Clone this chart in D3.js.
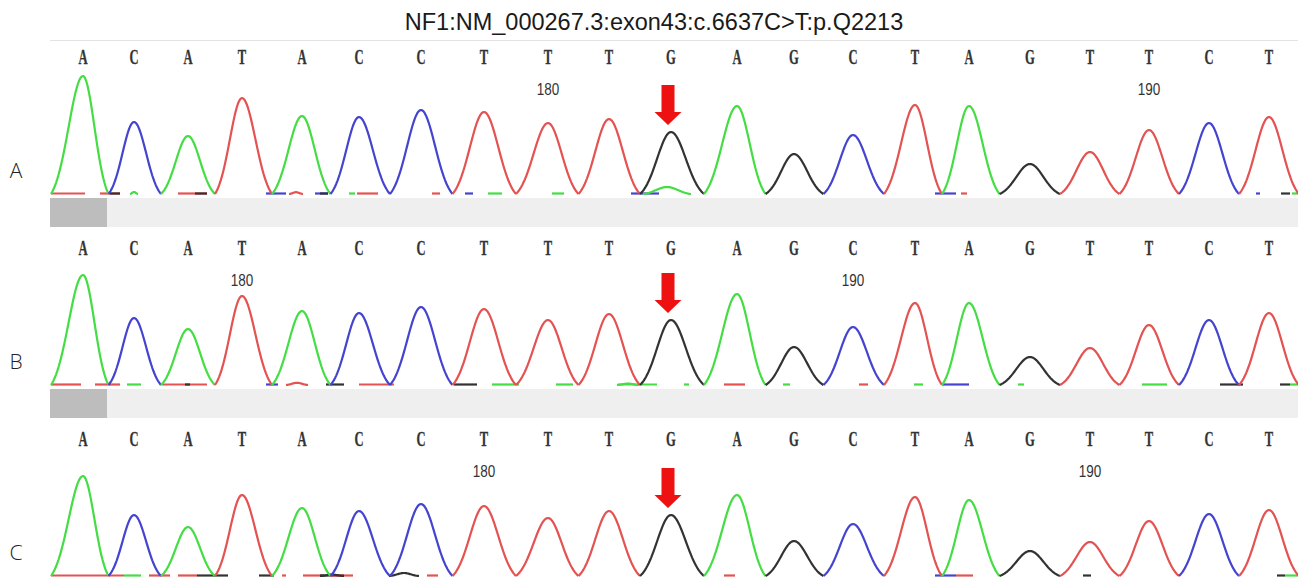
<!DOCTYPE html>
<html>
<head>
<meta charset="utf-8">
<script src="https://cdn.jsdelivr.net/npm/d3@7"></script>
<style>
  html, body { margin: 0; padding: 0; background: #fff; }
  svg { display: block; }
</style>
</head>
<body>
<svg id="chart" width="1298" height="582"></svg>
<script>
// ---------------- DATA ----------------
const title = "NF1:NM_000267.3:exon43:c.6637C>T:p.Q2213";
const panelLabels = ["A", "B", "C"];
const bases = ["A","C","A","T","A","C","C","T","T","T","G","A","G","C","T","A","G","T","T","C","T"];
// scan position of each called base peak
const peakScan = [33, 84, 138, 192, 252, 309, 371, 434, 498, 559, 621, 687, 744, 803, 865, 919, 980, 1040, 1099, 1159, 1219];
// peak signal heights per sample
const heightsA = [1180, 720, 580, 960, 780, 770, 840, 820, 710, 750, 620, 880, 400, 590, 890, 880, 300, 420, 640, 710, 770];
const heightsB = [1100, 670, 560, 890, 740, 720, 780, 760, 650, 710, 650, 910, 380, 580, 820, 820, 280, 370, 600, 650, 720];
const heightsC = [1000, 610, 490, 810, 680, 650, 720, 700, 580, 650, 610, 810, 350, 520, 790, 760, 250, 340, 550, 620, 660];
// position-number labels: [label, base index] per sample
const ticksA = [["180", 8], ["190", 18]];
const ticksB = [["180", 3], ["190", 13]];
const ticksC = [["180", 7], ["190", 17]];
const mutationIndex = 10;
// minor secondary peaks: [centre scan, half width, height, base]
const minorA = [[617, 24, 70, "A"], [84, 4, 20, "A"], [246, 7, 18, "T"]];
const minorB = [[247, 11, 22, "T"], [578, 11, 14, "A"]];
const minorC = [[354, 15, 30, "G"], [282, 12, 14, "G"]];
// baseline noise segments: [scan start, scan end, base]
const noiseA = [[1,35,"T"],[50,70,"T"],[60,70,"G"],[128,157,"T"],[145,157,"G"],[216,236,"C"],[265,278,"C"],[270,278,"G"],[299,305,"A"],[307,328,"T"],[382,390,"T"],[415,423,"C"],[438,452,"A"],[502,514,"A"],[581,609,"C"],[885,906,"C"],[911,917,"T"],[1206,1210,"C"],[1231,1240,"G"],[1242,1248,"A"]];
const noiseB = [[1,31,"T"],[45,70,"T"],[77,91,"A"],[112,157,"T"],[135,140,"G"],[216,228,"C"],[276,294,"G"],[309,344,"T"],[404,427,"G"],[442,469,"A"],[506,523,"A"],[568,607,"A"],[634,639,"A"],[674,695,"T"],[733,740,"A"],[809,818,"T"],[864,873,"A"],[892,919,"C"],[968,974,"A"],[1092,1117,"A"],[1170,1193,"G"],[1230,1240,"G"],[1240,1248,"A"]];
const noiseC = [[1,74,"T"],[74,91,"A"],[99,120,"T"],[128,147,"T"],[147,178,"G"],[209,224,"G"],[232,236,"T"],[253,274,"T"],[270,294,"G"],[280,303,"T"],[377,388,"T"],[674,685,"T"],[885,906,"C"],[906,923,"T"],[1033,1041,"G"],[1227,1235,"G"],[1235,1248,"A"]];

const samples = [
  { label: panelLabels[0], heights: heightsA, ticks: ticksA, minor: minorA, noise: noiseA, band: true },
  { label: panelLabels[1], heights: heightsB, ticks: ticksB, minor: minorB, noise: noiseB, band: true },
  { label: panelLabels[2], heights: heightsC, ticks: ticksC, minor: minorC, noise: noiseC, band: false }
];

// ---------------- STYLE / LAYOUT ----------------
const baseColor = { A: "#44dd44", C: "#4444d0", G: "#333333", T: "#e45252" };
const panelBaseline = [194, 385, 576];
const W = 1298;
const svg = d3.select("#chart");

const x = d3.scaleLinear().domain([0, 1248]).range([50, W]);
const yAmp = d3.scaleLinear().domain([0, 1200]).range([0, 120]);

function shape(t) {
  const k = 2.5;
  return Math.max(0, (Math.exp(-k * t * t) - Math.exp(-k)) / (1 - Math.exp(-k)));
}
const line = d3.line().x(d => d[0]).y(d => d[1]);

// title
svg.append("text")
  .attr("x", 654).attr("y", 30)
  .attr("text-anchor", "middle")
  .style("font-family", "'Liberation Sans', Arial, sans-serif")
  .style("font-size", "23.5px")
  .attr("fill", "#1a1a1a")
  .text(title);

svg.append("line")
  .attr("x1", x(0)).attr("x2", W)
  .attr("y1", 40.5).attr("y2", 40.5)
  .attr("stroke", "#e2e2e2").attr("stroke-width", 1);

samples.forEach((s, p) => {
  const base = panelBaseline[p];
  const g = svg.append("g");

  // grey quality band
  if (s.band) {
    g.append("rect")
      .attr("x", x(0)).attr("y", base + 4)
      .attr("width", W - x(0)).attr("height", 29)
      .attr("fill", "#efefef");
    g.append("rect")
      .attr("x", x(0)).attr("y", base + 4)
      .attr("width", x(57) - x(0)).attr("height", 29)
      .attr("fill", "#bdbdbd");
  }

  // panel label
  g.append("text")
    .attr("x", 16).attr("y", base - 16)
    .attr("text-anchor", "middle")
    .style("font-family", "'Open Sans', 'Liberation Sans', sans-serif")
    .style("font-weight", 300)
    .style("font-size", "21px")
    .attr("fill", "#222")
    .text(s.label);

  // base calls
  const letterY = base - 130;
  bases.forEach((b, i) => {
    g.append("text")
      .attr("transform", `translate(${x(peakScan[i])},${letterY}) scale(0.6,1)`)
      .attr("text-anchor", "middle")
      .style("font-family", "'Liberation Serif', 'Times New Roman', serif")
      .style("font-weight", "bold")
      .style("font-size", "21px")
      .attr("fill", "#333")
      .attr("stroke", "#333").attr("stroke-width", 0.3)
      .text(b);
  });

  // position numbers
  s.ticks.forEach(([lab, idx]) => {
    g.append("text")
      .attr("transform", `translate(${x(peakScan[idx])},${base - 99}) scale(0.9,1.08)`)
      .attr("text-anchor", "middle")
      .style("font-family", "'Liberation Sans', Arial, sans-serif")
      .style("font-size", "15px")
      .attr("fill", "#333")
      .text(lab);
  });

  // baseline noise
  s.noise.forEach(([a, b2, c]) => {
    g.append("line")
      .attr("x1", x(a)).attr("x2", x(b2))
      .attr("y1", base - 0.5).attr("y2", base - 0.5)
      .attr("stroke", baseColor[c]).attr("stroke-width", 2.2);
  });

  // minor peaks
  s.minor.forEach(([c, hw, h, b]) => {
    const pts = d3.range(-1, 1.0001, 0.05).map(t => [x(c + t * hw), base - yAmp(h * shape(t))]);
    g.append("path").attr("d", line(pts))
      .attr("fill", "none").attr("stroke", baseColor[b]).attr("stroke-width", 2.2);
  });

  // main peaks
  bases.forEach((b, i) => {
    const c = peakScan[i];
    const hl = i === 0 ? 32 : (c - peakScan[i - 1]) / 2;
    const hr = i === bases.length - 1 ? 30 : (peakScan[i + 1] - c) / 2;
    const h = s.heights[i];
    const pts = [];
    for (let t = -1; t <= 1.0001; t += 0.04) {
      const sc = t < 0 ? c + t * hl : c + t * hr;
      pts.push([x(Math.min(sc, 1248)), base - yAmp(h * shape(t))]);
    }
    g.append("path").attr("d", line(pts))
      .attr("fill", "none")
      .attr("stroke", baseColor[b])
      .attr("stroke-width", 2.2)
      .attr("stroke-linejoin", "round");
  });

  // red mutation arrow
  const ax = x(peakScan[mutationIndex]) - 3;
  const tip = base - yAmp(s.heights[mutationIndex]) - 7;
  const top = tip - 40, headH = 13, shaftW = 13, headW = 27;
  g.append("path")
    .attr("d", `M${ax - shaftW / 2},${top} L${ax + shaftW / 2},${top} L${ax + shaftW / 2},${tip - headH} L${ax + headW / 2},${tip - headH} L${ax},${tip} L${ax - headW / 2},${tip - headH} L${ax - shaftW / 2},${tip - headH} Z`)
    .attr("fill", "#ee1111");
});
</script>
</body>
</html>
